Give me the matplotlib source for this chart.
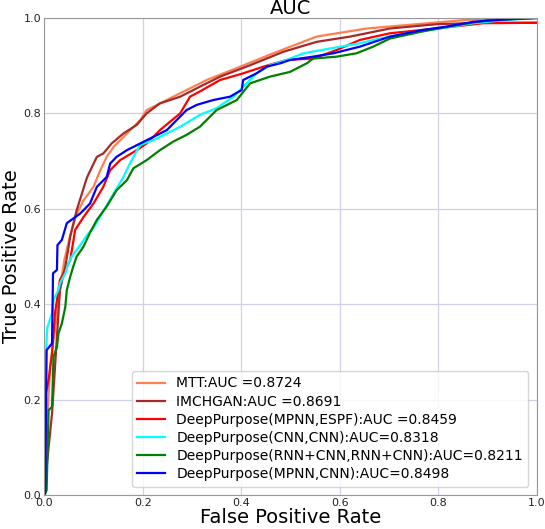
import numpy as np
import matplotlib
matplotlib.use("Agg")
import matplotlib.pyplot as plt

# ROC points (fpr, tpr)
mtt_fpr = [0, 0.004, 0.012, 0.026, 0.032, 0.041, 0.053, 0.065, 0.080, 0.100, 0.114, 0.127, 0.141,
           0.168, 0.195, 0.208, 0.262, 0.330, 0.398, 0.465, 0.553, 0.655, 0.756, 0.857, 1.0]
mtt_tpr = [0, 0.115, 0.269, 0.381, 0.430, 0.493, 0.545, 0.587, 0.618, 0.646, 0.681, 0.709, 0.730,
           0.758, 0.786, 0.807, 0.835, 0.870, 0.898, 0.926, 0.961, 0.978, 0.987, 0.996, 1.0]

imc_fpr = [0, 0.002, 0.005, 0.016, 0.026, 0.032, 0.043, 0.053, 0.066, 0.087, 0.107, 0.120, 0.137,
           0.161, 0.188, 0.208, 0.235, 0.276, 0.316, 0.357, 0.418, 0.485, 0.553, 0.621, 0.702,
           0.797, 0.891, 1.0]
imc_tpr = [0, 0.004, 0.059, 0.171, 0.332, 0.430, 0.479, 0.542, 0.597, 0.666, 0.709, 0.716, 0.737,
           0.758, 0.776, 0.800, 0.821, 0.835, 0.856, 0.877, 0.901, 0.929, 0.950, 0.961, 0.978,
           0.987, 0.990, 0.990]

espf_fpr = [0, 0.002, 0.009, 0.016, 0.022, 0.032, 0.043, 0.053, 0.063, 0.080, 0.100, 0.120, 0.134,
            0.154, 0.188, 0.208, 0.235, 0.256, 0.276, 0.296, 0.316, 0.357, 0.404, 0.445, 0.492,
            0.546, 0.594, 0.641, 0.702, 0.797, 0.891, 1.0]
espf_tpr = [0, 0.206, 0.241, 0.297, 0.381, 0.451, 0.472, 0.493, 0.556, 0.583, 0.611, 0.646, 0.681,
            0.702, 0.723, 0.737, 0.765, 0.783, 0.800, 0.835, 0.846, 0.870, 0.884, 0.898, 0.912,
            0.915, 0.933, 0.954, 0.968, 0.978, 0.989, 0.990]

cnn_fpr = [0, 0.003, 0.006, 0.016, 0.019, 0.029, 0.032, 0.043, 0.049, 0.056, 0.066, 0.076, 0.087,
           0.100, 0.120, 0.141, 0.161, 0.174, 0.185, 0.195, 0.222, 0.249, 0.276, 0.316, 0.350,
           0.384, 0.411, 0.431, 0.458, 0.492, 0.526, 0.580, 0.641, 0.668, 0.736, 0.803, 0.871,
           0.939, 1.0]
cnn_tpr = [0, 0.270, 0.350, 0.381, 0.409, 0.430, 0.444, 0.465, 0.486, 0.500, 0.514, 0.528, 0.545,
           0.560, 0.595, 0.632, 0.667, 0.695, 0.716, 0.734, 0.744, 0.758, 0.772, 0.797, 0.811,
           0.835, 0.863, 0.884, 0.901, 0.912, 0.926, 0.936, 0.947, 0.954, 0.968, 0.978, 0.989,
           0.996, 1.0]

rnn_fpr = [0, 0.005, 0.009, 0.016, 0.019, 0.026, 0.029, 0.036, 0.043, 0.046, 0.053, 0.059, 0.066,
           0.080, 0.093, 0.107, 0.127, 0.147, 0.168, 0.181, 0.208, 0.235, 0.262, 0.289, 0.316,
           0.350, 0.391, 0.418, 0.458, 0.499, 0.533, 0.546, 0.594, 0.634, 0.668, 0.702, 0.769,
           0.837, 0.905, 1.0]
rnn_tpr = [0, 0.010, 0.178, 0.185, 0.290, 0.311, 0.339, 0.360, 0.395, 0.430, 0.458, 0.479, 0.500,
           0.521, 0.550, 0.577, 0.605, 0.639, 0.660, 0.685, 0.702, 0.723, 0.741, 0.755, 0.772,
           0.807, 0.828, 0.863, 0.877, 0.887, 0.905, 0.915, 0.919, 0.926, 0.940, 0.957, 0.972,
           0.985, 0.996, 1.0]

mpnn_fpr = [0, 0.002, 0.005, 0.016, 0.018, 0.026, 0.027, 0.036, 0.046, 0.073, 0.093, 0.107, 0.127,
            0.134, 0.147, 0.168, 0.195, 0.222, 0.249, 0.269, 0.289, 0.310, 0.343, 0.377, 0.401,
            0.404, 0.431, 0.452, 0.479, 0.499, 0.546, 0.587, 0.641, 0.702, 0.769, 0.817, 0.871,
            0.939, 1.0]
mpnn_tpr = [0, 0.004, 0.304, 0.318, 0.465, 0.472, 0.524, 0.535, 0.570, 0.590, 0.611, 0.646, 0.667,
            0.695, 0.709, 0.723, 0.737, 0.751, 0.765, 0.786, 0.807, 0.818, 0.828, 0.835, 0.849,
            0.870, 0.884, 0.898, 0.905, 0.912, 0.919, 0.926, 0.940, 0.961, 0.975, 0.982, 0.992,
            0.997, 1.0]

labels = ["MTT:AUC =0.8724", "IMCHGAN:AUC =0.8691", "DeepPurpose(MPNN,ESPF):AUC =0.8459",
          "DeepPurpose(CNN,CNN):AUC=0.8318", "DeepPurpose(RNN+CNN,RNN+CNN):AUC=0.8211",
          "DeepPurpose(MPNN,CNN):AUC=0.8498"]
colors = ["coral", "brown", "red", "cyan", "green", "blue"]

curves = [(mtt_fpr, mtt_tpr), (imc_fpr, imc_tpr), (espf_fpr, espf_tpr),
          (cnn_fpr, cnn_tpr), (rnn_fpr, rnn_tpr), (mpnn_fpr, mpnn_tpr)]

fig = plt.figure(figsize=(5.45, 5.29), dpi=100)
ax = fig.add_axes([0.081, 0.064, 0.904, 0.902])

for (f, t), lab, c in zip(curves, labels, colors):
    ax.plot(f, t, color=c, lw=1.6, label=lab)

ax.set_xlim(0, 1)
ax.set_ylim(0, 1)
ax.set_xticks(np.arange(0, 1.01, 0.2))
ax.set_yticks(np.arange(0, 1.01, 0.2))
ax.grid(True, color="#d0d0e8", lw=0.9)
ax.set_axisbelow(True)
for s in ax.spines.values():
    s.set_color("#999999")
ax.tick_params(labelsize=8, length=0, pad=2, colors="#222222")

ax.set_title("AUC", fontsize=14, pad=2)
ax.set_xlabel("False Positive Rate", fontsize=14, labelpad=0)
ax.set_ylabel("True Positive Rate", fontsize=14, labelpad=2)
ax.legend(loc="lower right", fontsize=10, labelspacing=0.3, borderaxespad=0.6,
          edgecolor="#cccccc")

plt.savefig("out.png", dpi=100)
